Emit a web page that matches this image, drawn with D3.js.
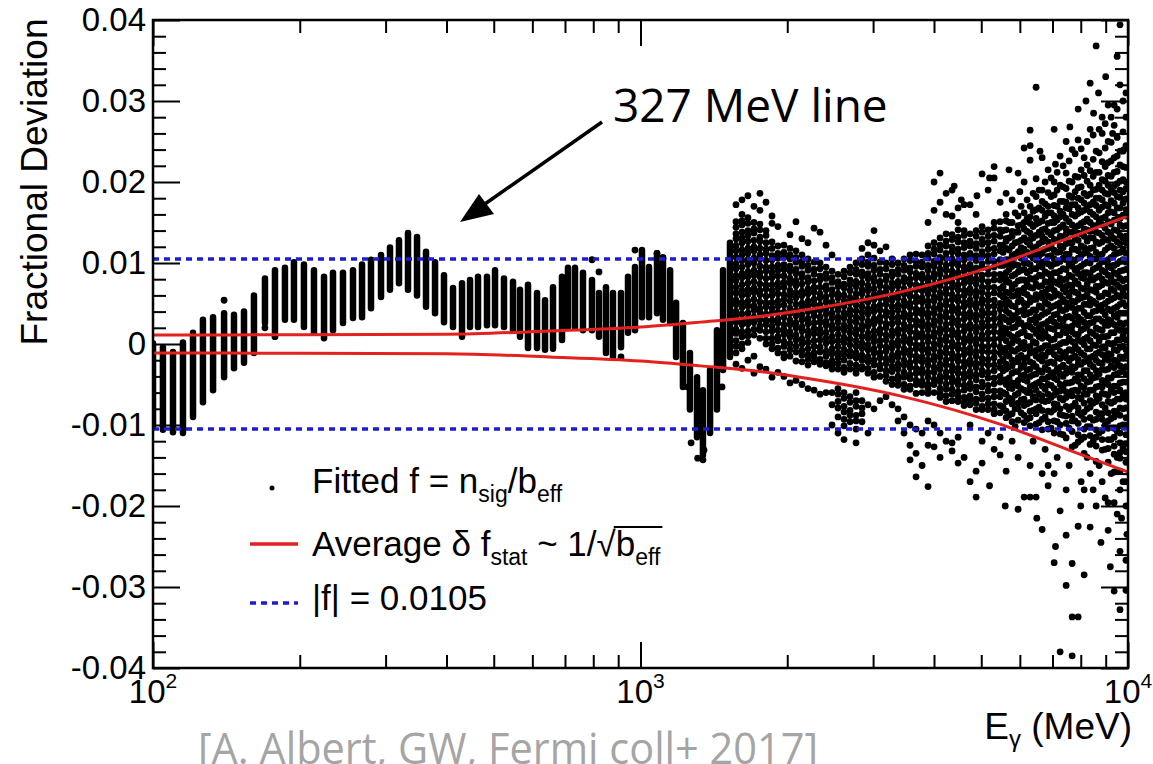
<!DOCTYPE html>
<html>
<head>
<meta charset="utf-8">
<script src="https://cdn.jsdelivr.net/npm/d3@7"></script>
<style>
  body { margin: 0; background: #fff; }
  svg { display: block; font-family: "Liberation Sans", Arial, sans-serif; }
</style>
</head>
<body>
<script>
const W = 1153, H = 764;
const pL = 153, pR = 1128, pT = 20, pB = 668;

// axis ticks
const yTicks = [-0.04, -0.03, -0.02, -0.01, 0, 0.01, 0.02, 0.03, 0.04];
const xDecades = [100, 1000, 10000];
const xExponents = ["2", "3", "4"];

// vertical streaks below ~1.5 GeV : [E (MeV), f top, f bottom]
const streaks = [
  [100, 0.0001, -0.0103], [104.8, -0.0004, -0.0106], [109.9, -0.0010, -0.0109], [115.2, 0.0002, -0.0110],
  [120.8, 0.0014, -0.0090], [126.6, 0.0030, -0.0072], [132.8, 0.0033, -0.0057], [139.9, 0.0038, -0.0041],
  [146.6, 0.0036, -0.0030], [153.7, 0.0040, -0.0023], [161.1, 0.0060, -0.0011], [169.7, 0.0081, 0.0026],
  [177.9, 0.0091, 0.0014], [186.5, 0.0094, 0.0030], [194.6, 0.0101, 0.0030], [204.0, 0.0098, 0.0021],
  [213.9, 0.0091, 0.0014], [224.3, 0.0083, 0.0007], [234.0, 0.0088, 0.0017], [245.3, 0.0088, 0.0026],
  [257.2, 0.0091, 0.0032], [268.4, 0.0098, 0.0033], [280.0, 0.0104, 0.0044], [293.6, 0.0110, 0.0058],
  [306.3, 0.0119, 0.0067], [319.6, 0.0128, 0.0075], [333.5, 0.0137, 0.0067], [348.0, 0.0132, 0.0060],
  [363.1, 0.0114, 0.0046], [378.9, 0.0101, 0.0038], [395.3, 0.0085, 0.0027], [412.5, 0.0069, 0.0021],
  [430.4, 0.0075, 0.0009], [447.0, 0.0079, 0.0021], [464.2, 0.0083, 0.0021], [484.3, 0.0083, 0.0023],
  [503.0, 0.0091, 0.0023], [524.8, 0.0081, 0.0021], [547.6, 0.0077, 0.0017], [566.0, 0.0067, 0.0009],
  [587.8, 0.0073, -0.0005], [613.4, 0.0063, -0.0005], [637.0, 0.0054, -0.0007], [661.5, 0.0070, -0.0006],
  [690.2, 0.0083, 0.0005], [710.0, 0.0094, 0.0021], [733.9, 0.0094, 0.0021], [762.1, 0.0088, 0.0017],
  [795.2, 0.0079, 0.0017], [822.0, 0.0063, 0.0009], [849.6, 0.0070, -0.0011], [878.1, 0.0063, -0.0016],
  [912.0, 0.0063, -0.0004], [942.7, 0.0083, 0.0014], [974.3, 0.0095, 0.0017], [1007, 0.0116, 0.0033],
  [1041, 0.0095, 0.0033], [1081, 0.0112, 0.0038], [1112, 0.0107, 0.0030], [1150, 0.0091, 0.0026],
  [1183, 0.0051, -0.0016], [1222, 0.0026, -0.0053], [1263, -0.0011, -0.0081], [1306, -0.0041, -0.0115],
  [1343, -0.0057, -0.0137], [1389, -0.0032, -0.0110], [1435, 0.0017, -0.0081], [1477, 0.0091, -0.0032],
  [1526, 0.0125, -0.0016]
];

// single points outside the streaks : [E, f]
const strayPoints = [
  [139.9, 0.0054], [169.7, 0.0020], [177.9, 0.0009], [795.2, 0.0104], [822.0, 0.0089], [974.3, 0.0116],
  [1081, 0.0112], [1112, 0.0106], [912.0, -0.0016], [1270, -0.0122], [1310, -0.0141], [1343, -0.0143],
  [1350, -0.0131], [1250, -0.0053], [1470, -0.0053], [1460, -0.0020]
];

// scatter cloud above ~1.5 GeV : column energies (MeV) and f values in units of 1e-4
const cloudE = [1570, 1615, 1661, 1709, 1758, 1809, 1861, 1914, 1969, 2026, 2084, 2144, 2206, 2270,
  2335, 2402, 2471, 2542, 2615, 2690, 2768, 2847, 2929, 3013, 3100, 3189, 3281, 3375, 3472, 3572,
  3675, 3781, 3889, 4001, 4116, 4235, 4356, 4482, 4611, 4743, 4880, 5020, 5165, 5313, 5466, 5623,
  5785, 5951, 6122, 6298, 6479, 6666, 6857, 7055, 7257, 7466, 7681, 7902, 8129, 8363, 8603, 8851,
  9105, 9367, 9630, 9906];
// densest part of the first cloud columns, f top / bottom in units of 1e-4 (same order as cloudE)
const coreTop = [128, 138, 133, 128, 128, 118, 106, 100, 98, 98, 93, 88, 83, 78, 78, 73, 68, 66, 70, 76,
  80, 83, 88, 86, 80, 80, 84, 80, 84, 88, 90, 88, 98, 103, 106, 110, 112, 114, 110, 100, 90, 80, 70, 55, 40];
const coreBottom = [18, 13, 18, 23, 18, 13, 8, 5, 0, 0, -4, -4, -10, -7, -10, -12, -17, -17, -20, -17,
  -20, -17, -22, -26, -26, -30, -34, -36, -40, -40, -44, -44, -48, -50, -52, -54, -56, -58, -55, -50, -45, -40, -35, -25, -15];
const cloudF = [
  [172,151,144,136,130,121,115,107,99,93,84,78,70,63,54,49,40,34,27,18,13,4,-3,-11,-25],
  [178,160,152,147,138,131,125,116,110,103,95,87,82,73,66,60,51,45,37,29,24,15,9,0,-6,-30],
  [183,156,149,140,134,127,118,112,104,98,89,83,75,67,61,53,47,38,31,25,16,10,2,-20],
  [170,150,142,137,128,120,115,106,100,91,85,77,69,64,55,47,42,33,27,18,11,-15,-36],
  [186,165,148,141,132,127,118,110,105,96,88,83,74,66,61,52,44,39,30,22,17,7,-28],
  [175,140,134,125,117,112,103,95,90,81,73,68,59,51,46,37,29,24,15,7,0,-31],
  [158,149,126,118,109,104,95,88,82,73,66,60,51,44,38,29,22,16,7,0,-6,-41],
  [145,121,112,106,97,91,84,75,69,62,53,47,39,31,26,17,9,4,-5,-11,-35],
  [122,113,107,98,92,84,76,70,61,55,48,39,33,24,18,12,3,-3,-12,-17,-40],
  [135,118,110,105,96,90,81,75,66,60,53,44,38,29,24,15,9,0,-7,-15,-48],
  [151,115,107,101,92,87,78,72,63,57,49,41,35,26,20,11,5,-3,-10,-21,-45],
  [130,110,102,96,87,82,74,65,60,50,45,36,30,21,16,6,0,-8,-14,-22,-50],
  [125,105,97,91,82,77,68,62,53,47,40,31,25,16,10,2,-6,-13,-19,-26,-55],
  [143,101,92,86,78,70,64,55,49,40,35,26,19,13,4,-3,-11,-16,-22,-57],
  [138,100,93,84,79,70,62,57,48,42,33,27,18,12,5,-4,-10,-19,-25,-62],
  [122,95,87,81,72,67,58,52,43,37,28,23,14,7,1,-9,-15,-23,-27,-60],
  [110,90,82,76,67,61,52,47,38,32,23,18,9,3,-6,-12,-21,-26,-31,-60,-75,-100],
  [86,77,71,62,57,48,42,33,27,19,12,4,-3,-11,-17,-24,-31,-55,-62,-71,-79,-90,-110],
  [90,83,74,69,60,53,47,38,32,23,17,8,2,-7,-13,-20,-29,-35,-60,-67,-77,-84,-93,-101,-118],
  [95,88,79,73,66,57,51,42,36,28,21,14,6,-1,-9,-15,-24,-31,-65,-72,-82,-88,-96],
  [100,92,86,77,71,62,56,48,41,33,27,18,12,4,-3,-11,-17,-26,-32,-36,-60,-70,-77,-88,-95,-105,-122],
  [118,105,98,89,84,75,67,62,53,46,39,32,23,18,9,1,-5,-14,-20,-28,-31,-70,-79,-86,-96],
  [125,110,101,96,87,81,72,66,57,52,43,37,28,22,13,7,-1,-7,-16,-22,-30,-36,-75,-110],
  [140,122,106,97,91,82,77,68,61,55,46,40,31,25,16,9,3,-6,-11,-20,-26,-35,-41,-80],
  [115,101,92,86,77,72,63,57,48,42,33,28,18,13,4,-2,-11,-17,-26,-31,-40,-70],
  [120,100,93,84,79,70,64,55,49,40,35,25,20,11,5,-4,-9,-18,-24,-33,-39,-46,-65],
  [105,98,89,84,75,69,60,54,46,39,32,25,16,10,1,-5,-14,-20,-28,-34,-43,-50,-75],
  [100,92,86,77,72,63,57,48,42,33,27,18,13,4,-2,-11,-16,-25,-31,-40,-45,-51,-80,-95],
  [105,97,91,82,77,68,62,53,47,38,33,24,18,9,3,-6,-11,-20,-26,-35,-41,-50,-56,-90,-110],
  [110,103,94,89,80,74,65,59,50,45,36,30,21,15,6,1,-8,-14,-23,-29,-38,-43,-52,-56,-100,-125,-143],
  [111,102,96,87,82,73,67,58,52,43,38,29,23,14,8,-1,-6,-15,-21,-30,-36,-45,-50,-61,-105,-135,-164],
  [110,101,95,86,81,72,66,57,52,42,37,28,22,13,8,-1,-7,-16,-22,-31,-36,-46,-51,-60,-110,-150],
  [150,121,112,106,97,91,82,77,68,62,53,47,38,33,24,18,9,3,-6,-11,-20,-26,-35,-41,-50,-55,-61,-95,-125,-176],
  [200,165,125,117,111,102,96,87,82,73,67,58,53,44,38,29,23,14,9,0,-6,-15,-20,-29,-35,-44,-50,-60,-100,-127],
  [211,175,131,122,116,107,101,92,86,77,72,63,57,48,43,34,28,19,14,5,-1,-10,-16,-25,-31,-40,-46,-55,-61,-66,-110,-140],
  [186,160,136,127,121,112,106,97,91,82,77,68,62,53,48,39,33,24,18,9,4,-5,-11,-20,-26,-35,-41,-50,-56,-64,-71,-120],
  [190,158,135,129,120,114,105,99,90,85,76,70,61,55,46,41,32,26,17,11,2,-3,-12,-18,-27,-33,-42,-47,-56,-62,-70,-122,-132],
  [168,150,141,132,126,117,111,102,97,88,82,73,67,58,53,44,38,29,23,14,8,-1,-6,-15,-21,-30,-36,-45,-50,-59,-65,-71,-115,-147],
  [172,140,134,125,119,110,104,95,90,81,75,66,60,51,46,37,31,22,16,7,2,-7,-13,-22,-28,-37,-42,-51,-57,-66,-72,-76,-140],
  [172,136,127,121,112,107,98,92,83,77,68,63,54,48,39,33,24,19,10,4,-5,-11,-20,-25,-34,-40,-49,-55,-64,-69,-75,-100,-170],
  [160,140,133,124,118,109,103,94,89,80,74,65,59,50,45,36,30,21,15,6,0,-9,-15,-24,-29,-38,-44,-53,-59,-68,-73,-81,-157,-189],
  [210,145,138,129,123,114,108,99,94,85,79,70,64,55,50,41,35,26,20,11,6,-3,-9,-18,-24,-33,-38,-47,-53,-62,-68,-77,-81,-120,-147],
  [190,141,133,125,117,109,102,93,86,77,70,61,54,46,38,30,22,14,6,-3,-10,-19,-26,-35,-42,-51,-58,-67,-74,-81,-110],
  [219,205,150,143,134,127,118,111,102,95,86,79,70,63,54,47,38,31,22,15,6,-1,-10,-17,-26,-33,-42,-49,-58,-65,-74,-81,-86,-130],
  [175,151,141,133,122,115,104,97,86,79,68,61,50,43,32,25,14,7,-4,-11,-22,-29,-40,-47,-58,-65,-76,-85,-115,-137],
  [186,160,152,141,130,127,118,104,99,88,80,77,64,55,48,41,30,19,14,4,-5,-12,-25,-31,-44,-50,-62,-71,-83,-91,-157],
  [178,150,139,133,121,109,101,96,84,72,68,59,47,35,30,20,9,1,-8,-20,-27,-36,-48,-55,-69,-74,-86,-96,-120],
  [211,158,146,138,126,114,109,97,89,78,66,60,52,40,31,25,12,4,-6,-17,-22,-34,-45,-52,-61,-73,-80,-94,-140,-204],
  [242,200,162,150,142,131,117,111,100,92,79,69,63,50,43,36,22,15,2,-6,-18,-25,-38,-44,-57,-68,-76,-88,-97,-189],
  [264,227,170,157,149,137,129,122,110,98,90,81,70,57,52,39,29,21,9,-3,-11,-22,-31,-40,-53,-60,-72,-83,-91,-101,-150,-189],
  [317,204,182,166,155,148,134,120,113,104,93,82,74,61,55,42,34,26,13,1,-8,-15,-28,-37,-49,-57,-69,-80,-86,-99,-189],
  [230,190,176,165,152,141,133,126,112,101,95,84,72,63,57,45,36,24,16,7,-5,-13,-21,-35,-43,-52,-64,-70,-82,-93,-106,-160,-229],
  [215,187,170,162,149,138,126,118,108,99,87,76,68,59,49,40,28,20,8,-2,-10,-23,-32,-41,-50,-62,-70,-83,-96,-105,-150,-175],
  [265,200,184,171,158,150,140,129,116,105,99,88,77,66,59,47,36,27,18,6,-4,-13,-24,-35,-42,-55,-63,-74,-81,-95,-110,-160,-270],
  [232,196,176,164,157,144,133,121,114,102,90,81,73,60,51,43,31,22,11,0,-9,-18,-29,-37,-50,-58,-67,-80,-87,-100,-111,-206,-380],
  [250,211,192,175,168,155,142,136,124,111,104,92,80,71,64,51,43,33,21,14,2,-10,-17,-30,-36,-48,-59,-66,-77,-89,-98,-116,-180,-236,-298],
  [240,200,181,172,160,147,138,125,117,104,96,83,72,66,53,45,32,22,15,3,-8,-17,-28,-35,-47,-58,-64,-77,-89,-95,-108,-127,-271,-337,-385],
  [290,206,193,180,168,161,146,137,128,115,106,94,87,74,62,55,44,33,24,12,5,-7,-19,-25,-38,-46,-58,-66,-79,-85,-98,-112,-121,-225,-337],
  [230,208,186,174,165,151,142,133,119,112,99,88,81,68,58,49,39,27,19,6,-1,-14,-22,-33,-43,-54,-62,-73,-84,-93,-105,-115,-135,-180,-285],
  [322,265,214,196,185,172,163,150,139,131,118,108,100,86,79,67,55,48,35,26,15,4,-6,-17,-25,-38,-46,-57,-70,-78,-91,-102,-113,-124,-160,-226],
  [368,238,212,191,180,171,157,146,138,126,113,105,94,82,71,64,50,41,31,20,10,-2,-12,-20,-33,-41,-53,-64,-71,-84,-93,-106,-115,-126,-145,-200],
  [280,260,225,203,190,178,169,155,147,134,126,111,102,91,80,73,59,48,41,28,17,9,-4,-13,-24,-31,-45,-53,-61,-75,-86,-93,-107,-118,-131,-170],
  [295,250,224,208,196,185,170,162,151,138,128,119,104,96,85,75,62,53,43,30,23,10,1,-12,-20,-31,-42,-50,-63,-71,-85,-95,-104,-118,-129,-146,-196,-230],
  [295,270,230,212,195,187,174,162,153,141,130,118,110,97,88,76,66,57,44,35,24,14,1,-7,-20,-29,-38,-52,-60,-71,-83,-90,-104,-115,-126,-136,-158,-196,-305],
  [394,320,238,221,201,190,181,168,155,147,134,124,113,102,90,81,70,58,49,38,26,17,5,-4,-16,-27,-35,-48,-57,-68,-79,-88,-101,-110,-122,-134,-141,-157,-180,-256,-328],
  [310,280,245,218,200,192,179,166,158,146,133,125,112,101,92,80,70,59,47,38,26,16,5,-7,-15,-28,-37,-47,-60,-68,-79,-91,-100,-112,-123,-133,-146,-170,-200,-267,-304]
];
// in-between columns of the high-energy cloud : energies (MeV) and f values in units of 1e-4
const cloudMidE = [5544, 5703, 5868, 6036, 6209, 6388, 6572, 6761, 6955, 7156, 7361, 7573, 7791, 8015,
  8245, 8483, 8726, 8978, 9235, 9501, 9768];
const cloudMidF = [
  [140,122,113,97,85,71,58,49,33,20,8,-6,-19,-33,-45,-60,-78],
  [150,131,116,104,92,76,63,51,38,27,12,-3,-15,-28,-42,-54,-67,-88],
  [162,138,125,111,98,86,74,60,46,35,21,7,-9,-22,-34,-49,-63,-80,-102],
  [170,147,128,119,106,91,79,66,54,41,26,14,-1,-14,-29,-40,-55,-69,-85],
  [178,155,139,126,113,100,88,75,61,48,37,23,10,-4,-17,-32,-46,-60,-74,-93],
  [186,164,145,131,118,106,93,80,69,55,42,30,18,3,-10,-24,-38,-51,-65,-82,-120],
  [190,168,150,138,124,109,97,85,71,60,47,33,20,9,-6,-18,-33,-47,-62,-78,-97],
  [200,173,158,142,129,117,102,89,77,64,52,38,25,13,-2,-15,-29,-43,-56,-71,-90,-130],
  [205,182,162,150,135,121,109,96,82,70,57,45,31,19,5,-9,-22,-37,-51,-66,-84,-104],
  [212,190,170,153,141,128,113,100,88,75,62,49,37,23,11,-3,-17,-31,-44,-59,-75,-96,-140],
  [220,194,176,160,147,132,119,106,93,79,68,55,41,28,15,2,-12,-26,-40,-53,-69,-88,-112],
  [226,201,183,167,151,138,125,111,98,85,73,59,46,34,20,7,-7,-21,-34,-48,-63,-81,-104,-150],
  [235,207,188,172,158,144,130,117,103,91,78,64,52,39,26,12,-2,-15,-29,-43,-57,-73,-95,-125],
  [241,215,194,178,163,149,136,121,109,96,82,69,57,44,30,17,3,-11,-25,-38,-52,-68,-88,-118,-170],
  [250,221,201,183,170,154,141,127,113,101,88,74,61,49,35,22,8,-6,-20,-33,-47,-62,-80,-102,-140],
  [258,228,207,190,175,160,146,131,119,105,92,79,66,53,40,27,13,-1,-15,-28,-42,-57,-73,-94,-120,-180],
  [265,236,212,196,180,165,151,137,124,110,97,84,71,58,45,31,18,4,-10,-23,-37,-52,-67,-86,-110,-150],
  [272,242,219,201,186,172,157,143,129,116,102,89,76,63,50,36,23,9,-5,-18,-32,-47,-62,-79,-100,-130,-190],
  [280,249,226,207,192,177,163,148,134,121,107,94,81,68,55,41,28,14,0,-13,-27,-42,-57,-73,-92,-118,-160],
  [290,255,232,213,198,182,168,154,140,126,112,99,86,73,60,46,33,19,5,-8,-22,-37,-52,-68,-86,-108,-140,-210],
  [300,262,238,219,203,188,174,159,145,131,117,104,91,78,64,51,38,24,10,-3,-17,-32,-47,-63,-80,-100,-128,-170]
];
// loose high-energy outliers : [E, f]
const cloudExtra = [
  [4400, 0.0195], [4550, 0.0178], [4900, 0.0183], [5200, 0.0205], [5700, 0.0215], [6000, 0.0188],
  [6300, 0.0245], [6600, 0.0238], [7100, 0.0222], [7600, 0.0268], [7900, 0.0252], [8200, 0.0300],
  [8500, 0.0285], [8700, 0.0310], [9000, 0.0330], [9300, 0.0260], [9500, 0.0355], [9800, 0.0240],
  [5200, -0.0175], [5600, -0.0200], [6500, -0.0215], [7100, -0.0250], [8000, -0.0200], [8800, -0.0245],
  [9200, -0.0275], [9700, -0.0215], [9950, -0.0235]
];

// average statistical spread, drawn as +/- curves
const sigmaE = [100, 200, 400, 650, 1000, 1325, 1758, 2124, 3406, 5460, 7496, 10000];
const sigmaF = [0.0011, 0.00115, 0.0012, 0.0016, 0.0021, 0.0027, 0.0034, 0.0041, 0.0064, 0.0099, 0.0130, 0.0158];

const fLimit = 0.0105;

const x = d3.scaleLog().domain([100, 10000]).range([pL, pR]);
const y = d3.scaleLinear().domain([-0.04, 0.04]).range([pB, pT]);

const svg = d3.select("body").append("svg")
  .attr("width", W)
  .attr("height", H);

svg.append("defs").append("clipPath").attr("id", "plot")
  .append("rect").attr("x", pL).attr("y", pT).attr("width", pR - pL).attr("height", pB - pT);

const plot = svg.append("g").attr("clip-path", "url(#plot)");

// streaks
plot.selectAll("line.streak")
  .data(streaks)
  .enter()
  .append("line")
  .attr("class", "streak")
  .attr("x1", d => x(d[0])).attr("x2", d => x(d[0]))
  .attr("y1", d => y(d[1])).attr("y2", d => y(d[2]))
  .attr("stroke", "#000")
  .attr("stroke-width", 6.5)
  .attr("stroke-linecap", "round");

// dense middle of the cloud columns, thin so the dots keep some speckle
const cores = coreTop.map((t, i) => [cloudE[i], t / 1e4, coreBottom[i] / 1e4]);
plot.selectAll("line.core")
  .data(cores)
  .enter()
  .append("line")
  .attr("class", "core")
  .attr("x1", d => x(d[0])).attr("x2", d => x(d[0]))
  .attr("y1", d => y(d[1])).attr("y2", d => y(d[2]))
  .attr("stroke", "#000")
  .attr("stroke-width", 3.5)
  .attr("stroke-linecap", "round");

const dots = strayPoints.concat(cloudExtra);
cloudE.forEach((e, i) => cloudF[i].forEach(v => dots.push([e, v / 1e4])));
cloudMidE.forEach((e, i) => cloudMidF[i].forEach(v => dots.push([e, v / 1e4])));

plot.selectAll("circle.pt")
  .data(dots)
  .enter()
  .append("circle")
  .attr("class", "pt")
  .attr("cx", d => x(d[0]))
  .attr("cy", d => y(d[1]))
  .attr("r", 3.4)
  .attr("fill", "#000");

// |f| limits
[fLimit, -fLimit].forEach(v => {
  plot.append("line")
    .attr("x1", pL).attr("x2", pR)
    .attr("y1", y(v)).attr("y2", y(v))
    .attr("stroke", "#1c1cd0")
    .attr("stroke-width", 3.5)
    .attr("stroke-dasharray", "6,5");
});

// +/- statistical curves
const sigma = sigmaE.map((e, i) => [e, sigmaF[i]]);
[1, -1].forEach(s => {
  plot.append("path")
    .datum(sigma)
    .attr("fill", "none")
    .attr("stroke", "#e3211f")
    .attr("stroke-width", 3)
    .attr("d", d3.line().x(d => x(d[0])).y(d => y(s * d[1])).curve(d3.curveMonotoneX));
});

// axes
const xMinor = [200, 300, 400, 500, 600, 700, 800, 900, 2000, 3000, 4000, 5000, 6000, 7000, 8000, 9000];
const yMinor = d3.range(-0.038, 0.039, 0.002).filter(v => Math.abs(Math.round(v * 500)) % 5 !== 0);

function noDomain(g) {
  g.select(".domain").remove();
  g.selectAll(".tick line").attr("stroke-width", 2);
}

svg.append("g").attr("transform", `translate(0,${pB})`)
  .call(d3.axisBottom(x).tickValues(xMinor).tickSizeInner(-13).tickSizeOuter(0).tickFormat(""))
  .call(noDomain);
svg.append("g").attr("transform", `translate(0,${pB})`)
  .call(d3.axisBottom(x).tickValues(xDecades).tickSizeInner(-26).tickSizeOuter(0).tickFormat(""))
  .call(noDomain);
svg.append("g").attr("transform", `translate(0,${pT})`)
  .call(d3.axisTop(x).tickValues(xMinor).tickSizeInner(-13).tickSizeOuter(0).tickFormat(""))
  .call(noDomain);
svg.append("g").attr("transform", `translate(0,${pT})`)
  .call(d3.axisTop(x).tickValues(xDecades).tickSizeInner(-26).tickSizeOuter(0).tickFormat(""))
  .call(noDomain);

svg.append("g").attr("transform", `translate(${pL},0)`)
  .call(d3.axisLeft(y).tickValues(yMinor).tickSizeInner(-13).tickSizeOuter(0).tickFormat(""))
  .call(noDomain);
svg.append("g").attr("transform", `translate(${pR},0)`)
  .call(d3.axisRight(y).tickValues(yMinor).tickSizeInner(-13).tickSizeOuter(0).tickFormat(""))
  .call(noDomain);
svg.append("g").attr("transform", `translate(${pR},0)`)
  .call(d3.axisRight(y).tickValues(yTicks).tickSizeInner(-27).tickSizeOuter(0).tickFormat(""))
  .call(noDomain);

const yAxis = svg.append("g").attr("transform", `translate(${pL},0)`)
  .call(d3.axisLeft(y).tickValues(yTicks).tickSizeInner(-27).tickSizeOuter(0).tickPadding(7)
    .tickFormat(d => d === 0 ? "0" : d.toFixed(2)))
  .call(noDomain);
yAxis.attr("font-size", 33).attr("font-family", "Liberation Sans, Arial, sans-serif");
yAxis.selectAll("text").attr("fill", "#000");

// frame
svg.append("rect")
  .attr("x", pL).attr("y", pT)
  .attr("width", pR - pL).attr("height", pB - pT)
  .attr("fill", "none").attr("stroke", "#000").attr("stroke-width", 2.5);

// x tick labels 10^n
xDecades.forEach((d, i) => {
  const t = svg.append("text")
    .attr("x", x(d)).attr("y", 703)
    .attr("text-anchor", "middle")
    .attr("font-size", 33);
  t.append("tspan").text("10");
  t.append("tspan").attr("font-size", 21).attr("dy", -15).text(xExponents[i]);
});

// axis titles
const xt = svg.append("text")
  .attr("x", 1132).attr("y", 739)
  .attr("text-anchor", "end")
  .attr("font-size", 37);
xt.append("tspan").text("E");
xt.append("tspan").attr("font-size", 24).attr("dy", 8).text("γ");
xt.append("tspan").attr("dy", -8).text(" (MeV)");

svg.append("text")
  .attr("transform", "translate(47,182) rotate(-90)")
  .attr("text-anchor", "middle")
  .attr("font-size", 37)
  .text("Fractional Deviation");

// legend
svg.append("circle").attr("cx", 272).attr("cy", 488).attr("r", 2.5).attr("fill", "#000");
const l1 = svg.append("text").attr("x", 312).attr("y", 493).attr("font-size", 35);
l1.append("tspan").text("Fitted f = n");
l1.append("tspan").attr("font-size", 23).attr("dy", 9).text("sig");
l1.append("tspan").attr("dy", -9).text("/b");
l1.append("tspan").attr("font-size", 23).attr("dy", 9).text("eff");

svg.append("line").attr("x1", 250).attr("x2", 298).attr("y1", 544).attr("y2", 544)
  .attr("stroke", "#e3211f").attr("stroke-width", 3.5);
const l2 = svg.append("text").attr("x", 312).attr("y", 556).attr("font-size", 35);
l2.append("tspan").text("Average δ f");
l2.append("tspan").attr("font-size", 23).attr("dy", 9).text("stat");
l2.append("tspan").attr("dy", -9).text(" ~ 1/√b");
l2.append("tspan").attr("font-size", 23).attr("dy", 9).text("eff");
// vinculum over b_eff
const l2n = l2.node();
const nChars = l2n.getNumberOfChars();
const sq = l2n.getExtentOfChar(nChars - 5);
const last = l2n.getExtentOfChar(nChars - 1);
svg.append("line")
  .attr("x1", sq.x + sq.width - 2).attr("x2", last.x + last.width + 2)
  .attr("y1", sq.y + 3).attr("y2", sq.y + 3)
  .attr("stroke", "#000").attr("stroke-width", 2);

svg.append("line").attr("x1", 250).attr("x2", 298).attr("y1", 603).attr("y2", 603)
  .attr("stroke", "#1c1cd0").attr("stroke-width", 3.5).attr("stroke-dasharray", "6,5");
svg.append("text").attr("x", 312).attr("y", 610).attr("font-size", 35).text("|f| = 0.0105");

// annotation
svg.append("text")
  .attr("x", 613).attr("y", 122)
  .attr("font-family", "Open Sans, Noto Sans, sans-serif")
  .attr("font-size", 46)
  .text("327 MeV line");
svg.append("line")
  .attr("x1", 602).attr("y1", 122).attr("x2", 482).attr("y2", 206)
  .attr("stroke", "#000").attr("stroke-width", 3.5);
svg.append("polygon")
  .attr("points", "460,222 479,194 494,214")
  .attr("fill", "#000");

// citation, partly below the bottom edge as in the source image
svg.append("text")
  .attr("x", 198).attr("y", 764)
  .attr("font-family", "Open Sans, Noto Sans, sans-serif")
  .attr("font-size", 44)
  .attr("textLength", 620)
  .attr("lengthAdjust", "spacingAndGlyphs")
  .attr("fill", "#a5a5a5")
  .text("[A. Albert, GW, Fermi coll+ 2017]");
</script>
</body>
</html>
